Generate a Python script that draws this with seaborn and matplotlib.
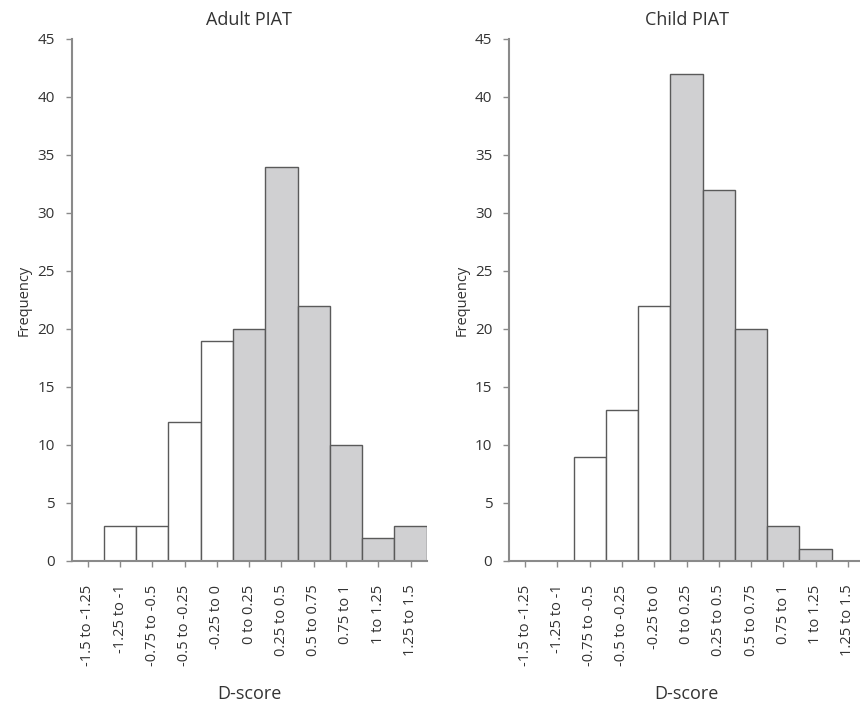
import matplotlib
matplotlib.use("Agg")
import matplotlib.pyplot as plt
import seaborn as sns

# D-score bins
bins = ["-1.5 to -1.25", "-1.25 to -1", "-0.75 to -0.5", "-0.5 to -0.25",
        "-0.25 to 0", "0 to 0.25", "0.25 to 0.5", "0.5 to 0.75",
        "0.75 to 1", "1 to 1.25", "1.25 to 1.5"]

adult_freq = [0, 3, 3, 12, 19, 20, 34, 22, 10, 2, 3]
child_freq = [0, 0, 9, 13, 22, 42, 32, 20, 3, 1, 0]

neg_color = "#ffffff"
pos_color = "#d0d0d2"
bar_colors = [neg_color] * 5 + [pos_color] * 6

sns.set_style("white")
plt.rcParams['font.family'] = ['Open Sans', 'DejaVu Sans']

fig = plt.figure(figsize=(8.6, 7.1), dpi=100)
ax1 = fig.add_axes([0.0833, 0.2099, 0.4128, 0.7352])
ax2 = fig.add_axes([0.5919, 0.2099, 0.4128, 0.7352])

spine_col = "#8a8a8a"
text_col = "#333333"
for ax, freq, title in [(ax1, adult_freq, "Adult PIAT"), (ax2, child_freq, "Child PIAT")]:
    sns.barplot(x=bins, y=freq, hue=bins, palette=bar_colors, legend=False,
                width=1.0, edgecolor="#5a5a5a", linewidth=1.0, saturation=1, ax=ax)
    ax.set_xlim(-0.5, 10.5)
    ax.set_ylim(0, 45)
    ax.set_yticks(range(0, 46, 5))
    ax.set_title(title, fontsize=13, color=text_col, pad=10)
    ax.set_xlabel("D-score", fontsize=13, color=text_col, labelpad=14)
    ax.set_ylabel("Frequency", fontsize=10.5, color=text_col, labelpad=4)
    ax.tick_params(axis="x", labelrotation=90, labelsize=10.5, colors=text_col,
                   length=4, width=1, color=spine_col, direction="out", pad=13)
    ax.tick_params(axis="y", labelsize=11, colors=text_col,
                   length=4, width=1, color=spine_col, direction="out", pad=8)
    sns.despine(ax=ax)
    for s in ["left", "bottom"]:
        ax.spines[s].set_color(spine_col)
        ax.spines[s].set_linewidth(1.5)
    ax.tick_params(bottom=True, left=True)

fig.savefig("out.png", dpi=100)
